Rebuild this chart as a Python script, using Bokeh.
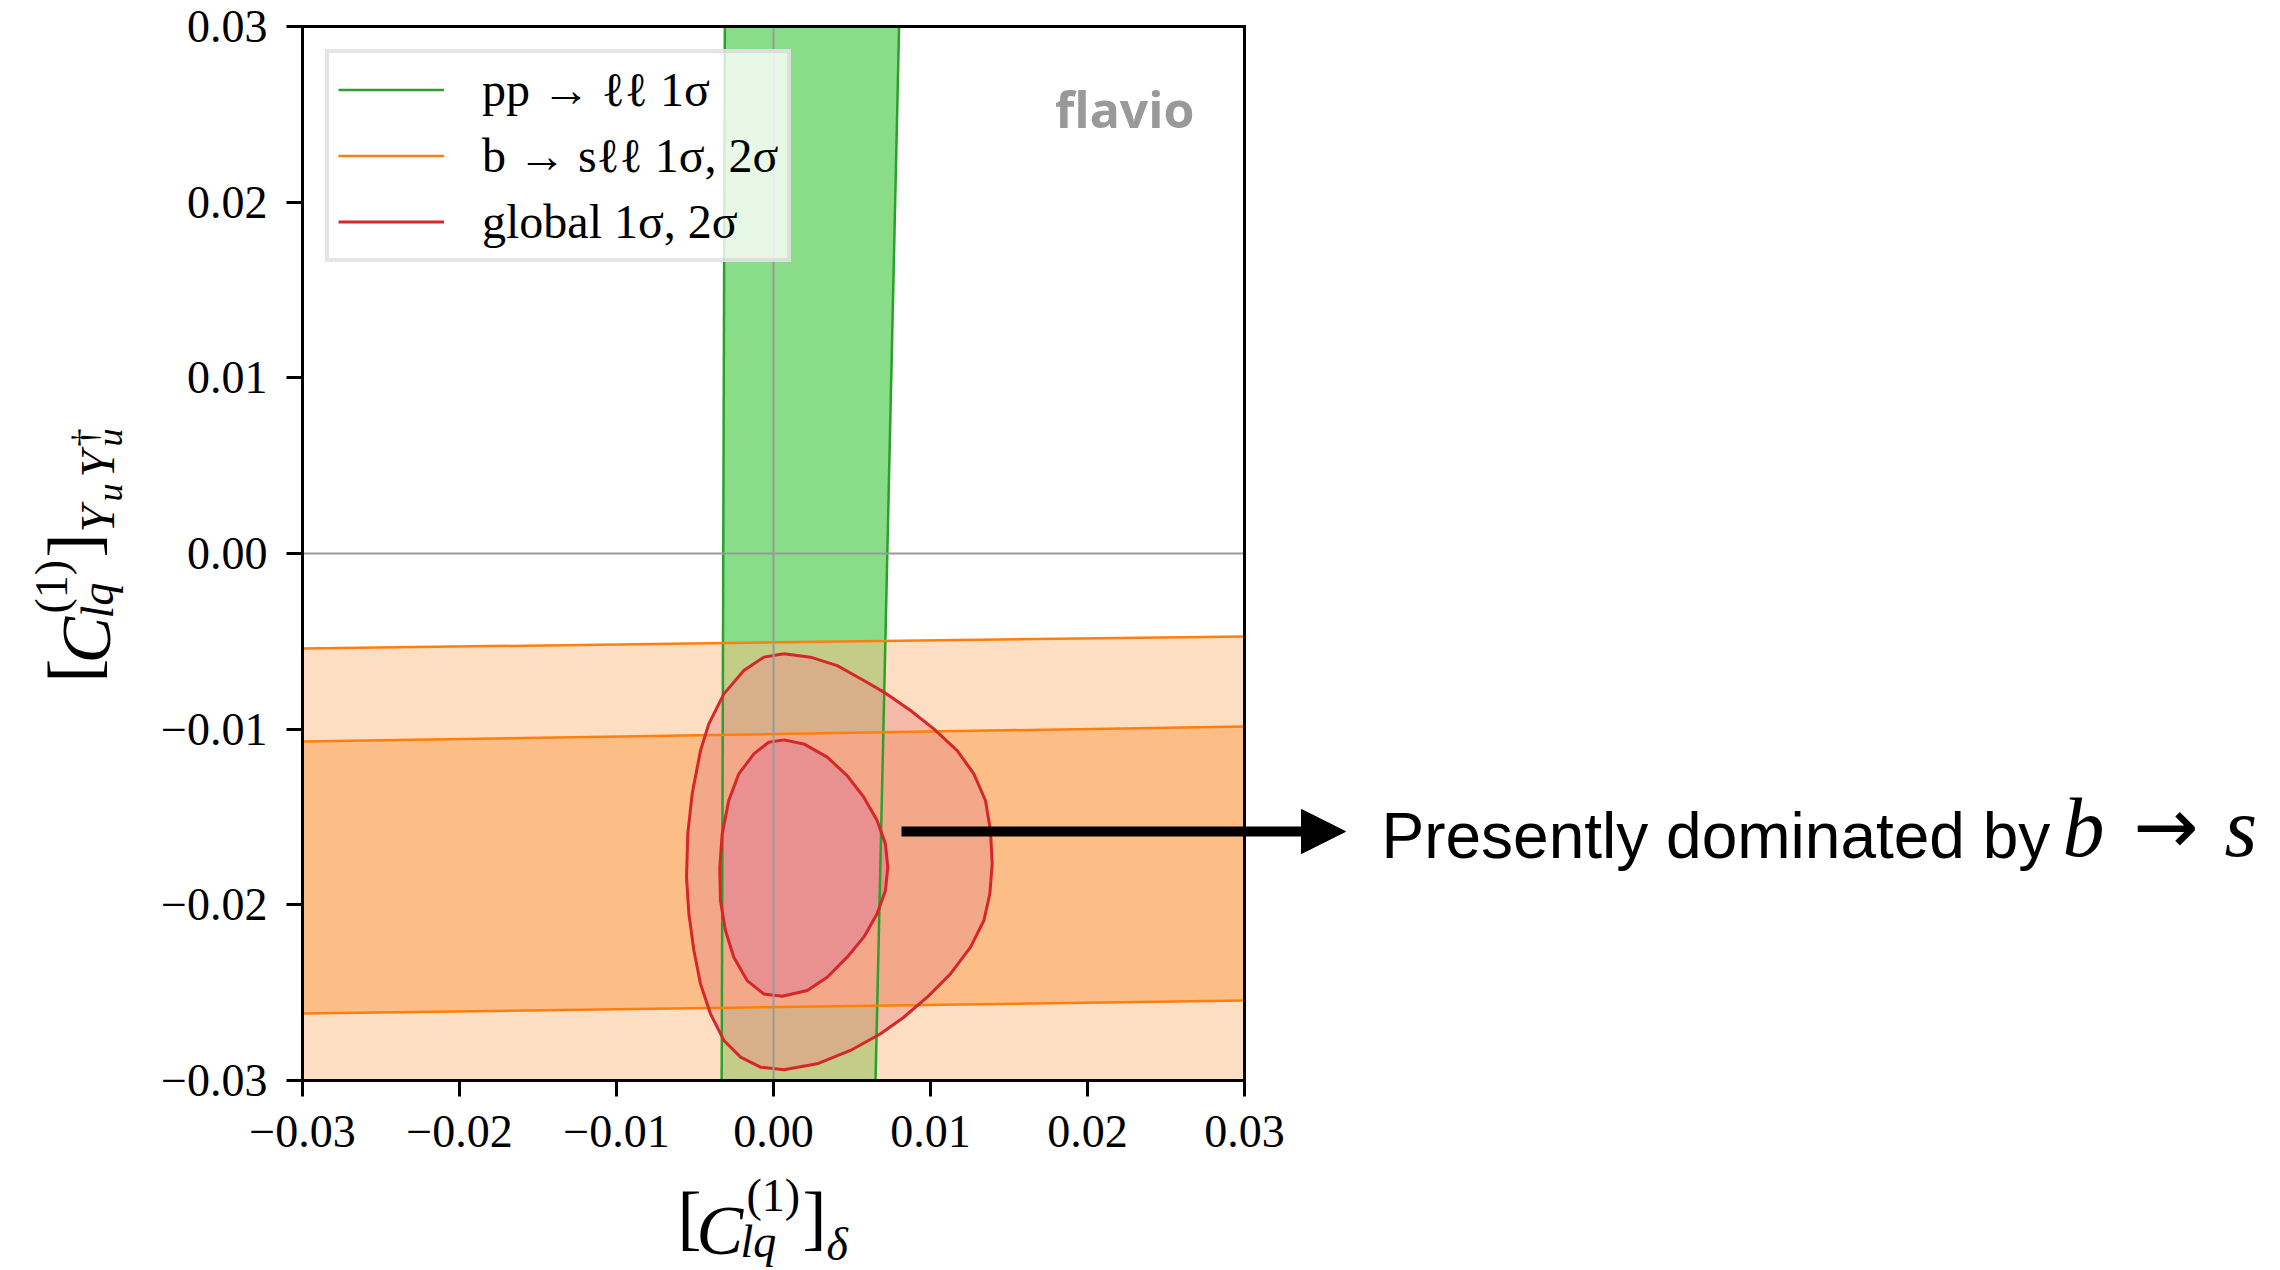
import math
from bokeh.plotting import figure
from bokeh.models import (Range1d, FixedTicker, Label, Legend, LegendItem,
                          Arrow, NormalHead, LinearAxis)
from bokeh.embed import file_html
from bokeh.resources import INLINE

# ---------------- data ----------------
XMIN, XMAX = -0.03, 0.03
YMIN, YMAX = -0.03, 0.03
ticks = [-0.03, -0.02, -0.01, 0.0, 0.01, 0.02, 0.03]
tick_labels = ["\u22120.03", "\u22120.02", "\u22120.01", "0.00", "0.01", "0.02", "0.03"]

# pp -> ll 1 sigma band (nearly vertical), edges given at y = -0.03 and y = +0.03
green_y = [-0.03, 0.03]
green_left = [-0.0033, -0.0031]
green_right = [0.0065, 0.0080]

# b -> s ll bands, edges given at x = -0.03 and x = +0.03
orange_x = [-0.03, 0.03]
orange_2s_upper = [-0.00541, -0.00472]
orange_1s_upper = [-0.0107, -0.00985]
orange_1s_lower = [-0.02619, -0.02545]
orange_2s_lower = [-0.0365, -0.0355]

# global fit contours
global_2s_x = [0.00066, 0.00236, 0.00406, 0.00575, 0.00703, 0.00873, 0.01021, 0.01170,
               0.01276, 0.01350, 0.01382, 0.01393, 0.01378, 0.01340, 0.01255, 0.01127,
               0.00979, 0.00830, 0.00682, 0.00490, 0.00278, 0.00066, -0.00083, -0.00210,
               -0.00316, -0.00401, -0.00465, -0.00507, -0.00539, -0.00554, -0.00546,
               -0.00518, -0.00465, -0.00412, -0.00316, -0.00189, -0.00062]
global_2s_y = [-0.00571, -0.00590, -0.00638, -0.00723, -0.00789, -0.00894, -0.00998, -0.01122,
               -0.01254, -0.01406, -0.01577, -0.01767, -0.01937, -0.02089, -0.02241, -0.02393,
               -0.02526, -0.02640, -0.02734, -0.02829, -0.02905, -0.02939, -0.02924, -0.02867,
               -0.02772, -0.02621, -0.02450, -0.02260, -0.02051, -0.01843, -0.01596,
               -0.01368, -0.01122, -0.00970, -0.00799, -0.00666, -0.00590]
global_1s_x = [0.00066, 0.00193, 0.00342, 0.00469, 0.00575, 0.00660, 0.00713, 0.00728,
               0.00713, 0.00660, 0.00575, 0.00469, 0.00342, 0.00215, 0.00055, -0.00062,
               -0.00168, -0.00253, -0.00306, -0.00338, -0.00342, -0.00327, -0.00285,
               -0.00221, -0.00125, -0.00030]
global_1s_y = [-0.01061, -0.01084, -0.01159, -0.01264, -0.01387, -0.01520, -0.01653, -0.01786,
               -0.01918, -0.02051, -0.02184, -0.02298, -0.02412, -0.02488, -0.02520, -0.02507,
               -0.02431, -0.02298, -0.02146, -0.01975, -0.01786, -0.01596, -0.01406,
               -0.01254, -0.01141, -0.01074]

legend_labels = ["pp \u2192 \u2113\u2113 1\u03c3", "b \u2192 s\u2113\u2113 1\u03c3, 2\u03c3",
                 "global 1\u03c3, 2\u03c3"]

# ---------------- layout ----------------
W, H = 2280, 1270
# where the plot box (-0.03..0.03 on both axes) sits on the page, in pixels
FL, FR, FT, FB = 302, 1244, 26, 1080
K = 0.39  # renderer puts the alphabetic baseline this many em too low


def sx(px):
    return XMIN + (px - FL) / (FR - FL) * (XMAX - XMIN)


def sy(py):
    return YMAX - (py - FT) / (FB - FT) * (YMAX - YMIN)


# the frame covers the whole page so that texts outside the box are not clipped;
# the axes are bounded to the data limits and pinned to the box edges
p = figure(width=W, height=H, x_range=Range1d(sx(0), sx(W)), y_range=Range1d(sy(H), sy(0)),
           output_backend="svg", toolbar_location=None,
           x_axis_location=None, y_axis_location=None,
           min_border=0, min_border_left=0, min_border_right=0,
           min_border_top=0, min_border_bottom=0)
p.grid.visible = False
p.background_fill_color = "white"
p.border_fill_color = "white"
p.outline_line_color = None


def make_axis(bounds, loc, tick_list):
    ax = LinearAxis(bounds=bounds, fixed_location=loc, ticker=FixedTicker(ticks=tick_list))
    ax.major_label_overrides = {t: l for t, l in zip(ticks, tick_labels)}
    ax.major_label_text_font = "Liberation Serif"
    ax.major_label_text_font_size = "46px"
    ax.major_label_text_color = "black"
    ax.axis_line_width = 3
    ax.axis_line_color = "black"
    ax.axis_line_cap = "square"
    ax.major_tick_line_width = 3
    ax.major_tick_line_color = "black"
    ax.major_tick_out = 16
    ax.major_tick_in = 0
    ax.minor_tick_line_color = None
    return ax


xa = make_axis((XMIN, XMAX), YMIN, ticks)
xa.major_label_standoff = 19
ya = make_axis((YMIN, YMAX), XMIN, ticks)
ya.major_label_standoff = 19
ta = make_axis((XMIN, XMAX), YMAX, [])
ra = make_axis((YMIN, YMAX), XMAX, [])
p.add_layout(xa, "below")
p.add_layout(ya, "left")
p.add_layout(ta, "above")
p.add_layout(ra, "right")

ORANGE = "#fdbd86"
orange_2s_lower_clip = [max(v, YMIN) for v in orange_2s_lower]
# fills
p.harea(y=green_y, x1=green_left, x2=green_right, fill_color="#89dd88", fill_alpha=1.0)
p.varea(x=orange_x, y1=orange_2s_lower_clip, y2=orange_2s_upper, fill_color=ORANGE,
        fill_alpha=0.5)
p.varea(x=orange_x, y1=orange_1s_lower, y2=orange_1s_upper, fill_color=ORANGE, fill_alpha=1.0)
p.patch(global_2s_x, global_2s_y, fill_color="#eb938e", fill_alpha=0.5, line_color=None)
p.patch(global_1s_x, global_1s_y, fill_color="#e99090", fill_alpha=1.0, line_color=None)

# edges
g1 = p.line(green_left, green_y, line_color="#2ca02c", line_width=2.5)
p.line(green_right, green_y, line_color="#2ca02c", line_width=2.5)
o1 = p.line(orange_x, orange_2s_upper, line_color="#ff7f0e", line_width=2.5)
p.line(orange_x, orange_1s_upper, line_color="#ff7f0e", line_width=2.5)
p.line(orange_x, orange_1s_lower, line_color="#ff7f0e", line_width=2.5)
r1 = p.line(global_2s_x + global_2s_x[:1], global_2s_y + global_2s_y[:1],
            line_color="#d62728", line_width=3)
p.line(global_1s_x + global_1s_x[:1], global_1s_y + global_1s_y[:1],
       line_color="#d62728", line_width=3)

# zero lines
p.line([XMIN, XMAX], [0, 0], line_color="#999999", line_width=2)
p.line([0, 0], [YMIN, YMAX], line_color="#999999", line_width=2)

legend = Legend(items=[LegendItem(label=legend_labels[0], renderers=[g1]),
                       LegendItem(label=legend_labels[1], renderers=[o1]),
                       LegendItem(label=legend_labels[2], renderers=[r1])],
                location=(325, H - 262), margin=0, padding=9, spacing=11,
                glyph_width=106, glyph_height=55, label_height=55, label_standoff=38,
                label_text_font="Liberation Serif", label_text_font_size="48px",
                label_text_color="black",
                border_line_color="#cccccc", border_line_width=4,
                background_fill_color="white", background_fill_alpha=0.8)
p.add_layout(legend)


def piece(px, py, txt, size, italic=False, angle=0.0, font="Liberation Serif",
          color="black", bold=False, align="left"):
    if angle:
        px = px - K * size
    else:
        py = py - K * size
    style = "bold" if bold else ("italic" if italic else "normal")
    p.add_layout(Label(x=sx(px), y=sy(py), text=txt, text_font=font,
                       text_font_style=style, text_font_size=f"{size}px", text_color=color,
                       text_align=align, text_baseline="alphabetic", angle=angle))


# flavio watermark
piece(1194, 128, "flavio", 50, font="Open Sans", color="#999999", bold=True, align="right")

# x axis label  [C_lq^(1)]_delta
piece(677, 1245, "[", 72)
piece(696, 1257, "C", 70, True)
piece(746, 1213, "(1)", 46)
piece(740, 1259, "lq", 46, True)
piece(802, 1245, "]", 72)
piece(826, 1262, "\u03b4", 46, True)

# y axis label  [C_lq^(1)]_{Y_u Y_u^dagger}, rotated
S, B = 682, 113
A = math.pi / 2
piece(B - 12, S - 0, "[", 72, angle=A)
piece(B, S - 19, "C", 70, True, angle=A)
piece(B - 44, S - 69, "(1)", 46, angle=A)
piece(B + 2, S - 64, "lq", 46, True, angle=A)
piece(B - 12, S - 125, "]", 72, angle=A)
piece(B + 3, S - 150, "Y", 48, True, angle=A)
piece(B + 11, S - 181, "u", 36, True, angle=A)
piece(B + 3, S - 205, "Y", 48, True, angle=A)
piece(B + 11, S - 236, "u", 36, True, angle=A)
piece(B - 14, S - 236, "\u2020", 36, angle=A)

# annotation arrow and text
p.add_layout(Arrow(x_start=sx(901), y_start=sy(831), x_end=sx(1345), y_end=sy(831),
                   line_color="black", line_width=10,
                   end=NormalHead(size=44, fill_color="black", line_color="black")))
piece(1381, 860, "Presently dominated by", 64, font="Liberation Sans")
piece(2062, 860, "b", 84, True)
piece(2133, 856, "\u2192", 78, font="DejaVu Sans")
piece(2224, 860, "s", 84, True)

open("out.html", "w").write(file_html(p, INLINE))
